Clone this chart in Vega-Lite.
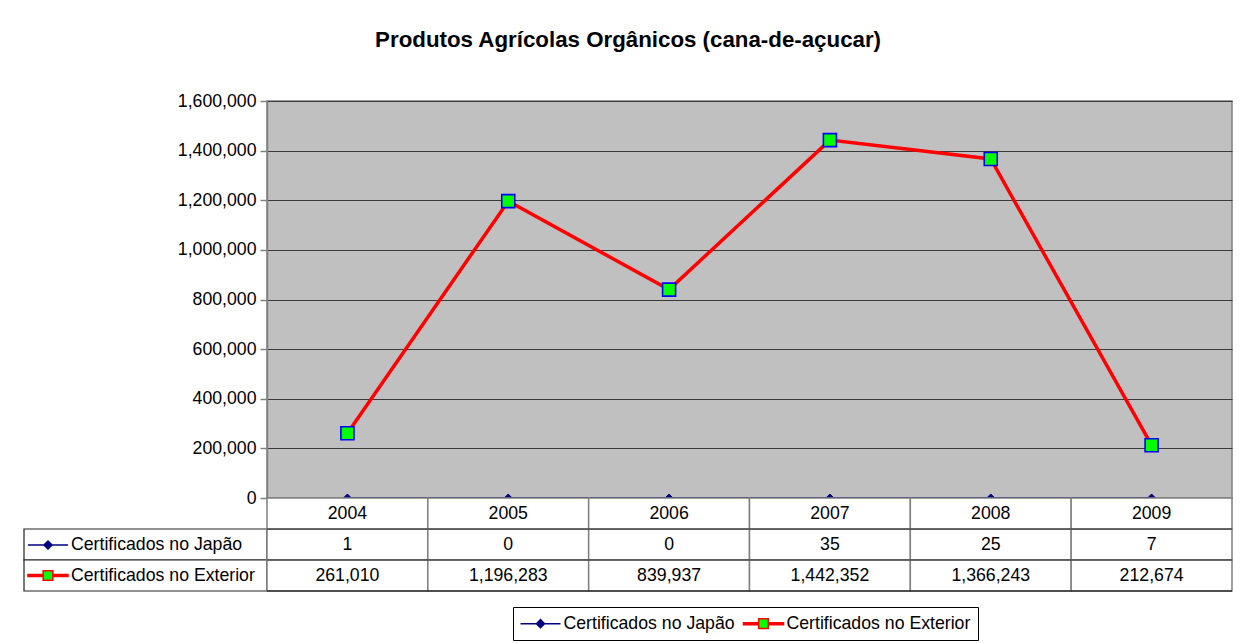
{
  "$schema": "https://vega.github.io/schema/vega-lite/v6.json",
  "background": "white",
  "padding": {"left": 23, "top": 28, "right": 10, "bottom": 4},
  "title": {"text": "Produtos Agrícolas Orgânicos (cana-de-açucar)", "font": "Liberation Sans", "fontSize": 22.3, "fontWeight": "bold", "color": "black", "anchor": "middle", "offset": 40},
  "config": {
    "font": "Liberation Sans",
    "view": {"stroke": null},
    "text": {"font": "Liberation Sans", "fontSize": 17.7, "color": "black"},
    "legend": {"labelFont": "Liberation Sans", "labelFontSize": 17.7, "labelColor": "black", "labelLimit": 0, "title": null}
  },
  "datasets": {
    "rows": [
      {"year": "2004", "series": "Certificados no Japão", "value": 1},
      {"year": "2005", "series": "Certificados no Japão", "value": 0},
      {"year": "2006", "series": "Certificados no Japão", "value": 0},
      {"year": "2007", "series": "Certificados no Japão", "value": 35},
      {"year": "2008", "series": "Certificados no Japão", "value": 25},
      {"year": "2009", "series": "Certificados no Japão", "value": 7},
      {"year": "2004", "series": "Certificados no Exterior", "value": 261010},
      {"year": "2005", "series": "Certificados no Exterior", "value": 1196283},
      {"year": "2006", "series": "Certificados no Exterior", "value": 839937},
      {"year": "2007", "series": "Certificados no Exterior", "value": 1442352},
      {"year": "2008", "series": "Certificados no Exterior", "value": 1366243},
      {"year": "2009", "series": "Certificados no Exterior", "value": 212674}
    ]
  },
  "data": {"name": "rows"},
  "columns": 2,
  "spacing": 0,
  "bounds": "flush",
  "align": "each",
  "resolve": {"scale": {"stroke": "independent"}},
  "concat": [
    {
      "width": 243, "height": 397,
      "mark": {"type": "text", "text": ""},
      "encoding": {}
    },
    {
      "width": 965, "height": 397,
      "view": {"fill": "#c0c0c0", "stroke": "#808080", "strokeWidth": 1.5},
      "encoding": {
        "x": {"field": "year", "type": "ordinal", "scale": {"type": "point", "padding": 0.5}, "axis": null},
        "y": {"field": "value", "type": "quantitative",
          "scale": {"domain": [0, 1600000], "nice": false, "zero": true},
          "axis": {"values": [0, 200000, 400000, 600000, 800000, 1000000, 1200000, 1400000, 1600000], "format": ",d", "title": null,
            "grid": true, "gridColor": "#3a3a3a", "gridWidth": 1, "gridOpacity": 1,
            "domainColor": "#808080", "domainWidth": 1.5, "tickColor": "#808080", "tickSize": 7, "tickWidth": 1.5,
            "labelFont": "Liberation Sans", "labelFontSize": 17.7, "labelColor": "black", "labelPadding": 4}}
      },
      "layer": [
        {
          "transform": [{"filter": "datum.series == 'Certificados no Japão'"}],
          "mark": {"type": "line", "strokeWidth": 2},
          "encoding": {"stroke": {"field": "series", "type": "nominal", "sort": "descending",
            "scale": {"range": ["#000080", "#ff0000"]},
            "legend": {"orient": "none", "legendX": 246, "legendY": 506, "direction": "horizontal",
              "symbolSize": 256, "symbolStrokeWidth": 1.5, "symbolOffset": 11, "labelOffset": 14, "columnPadding": 5, "padding": 7.5,
              "strokeColor": "black", "fillColor": "white",
              "encode": {"symbols": {"update": {
                "shape": {"signal": "datum.value === 'Certificados no Exterior' ? 'M-2.5,-0.125H-0.6V0.125H-2.5Z M0.6,-0.125H2.5V0.125H0.6Z M-0.6,-0.6H0.6V0.6H-0.6Z' : 'M-2.5,0H2.5M0,-0.5L0.5,0L0,0.5L-0.5,0Z'"},
                "fill": {"signal": "datum.value === 'Certificados no Exterior' ? {gradient: 'linear', x1: 0, y1: 0, x2: 1, y2: 0, stops: [{offset: 0, color: '#ff0000'}, {offset: 0.38, color: '#ff0000'}, {offset: 0.38, color: '#00ff00'}, {offset: 0.62, color: '#00ff00'}, {offset: 0.62, color: '#ff0000'}, {offset: 1, color: '#ff0000'}]} : '#000080'"},
                "stroke": {"signal": "datum.value === 'Certificados no Exterior' ? {gradient: 'linear', x1: 0, y1: 0, x2: 1, y2: 0, stops: [{offset: 0, color: '#ff0000'}, {offset: 0.36, color: '#ff0000'}, {offset: 0.36, color: '#0000ff'}, {offset: 0.64, color: '#0000ff'}, {offset: 0.64, color: '#ff0000'}, {offset: 1, color: '#ff0000'}]} : '#000080'"},
                "strokeWidth": {"value": 1.5},
                "opacity": {"value": 1}}}}}}}
        },
        {
          "transform": [{"filter": "datum.series == 'Certificados no Exterior'"}],
          "mark": {"type": "line", "strokeWidth": 3.5},
          "encoding": {"stroke": {"field": "series", "type": "nominal", "sort": "descending", "scale": {"range": ["#000080", "#ff0000"]}}}
        },
        {
          "transform": [{"filter": "datum.series == 'Certificados no Japão'"}],
          "mark": {"type": "point", "shape": "diamond", "filled": true, "fill": "#000080", "stroke": "#000080", "strokeWidth": 1, "size": 64, "opacity": 1},
          "encoding": {}
        },
        {
          "transform": [{"filter": "datum.series == 'Certificados no Exterior'"}],
          "mark": {"type": "point", "shape": "square", "filled": true, "fill": "#00ff00", "stroke": "#0000ff", "strokeWidth": 1.6, "size": 169, "opacity": 1},
          "encoding": {}
        }
      ]
    },
    {
      "width": 243, "height": 93,
      "encoding": {"y": {"field": "series", "type": "nominal",
        "scale": {"domain": ["Ano", "Certificados no Japão", "Certificados no Exterior"], "paddingInner": 0, "paddingOuter": 0}, "axis": null}},
      "layer": [
        {
          "transform": [{"filter": "datum.year == '2004'"}],
          "mark": {"type": "rect", "fill": "white", "stroke": "#222222", "strokeWidth": 1.2},
          "encoding": {}
        },
        {
          "transform": [{"filter": "datum.year == '2004'"}],
          "mark": {"type": "line", "opacity": 0, "strokeWidth": 1.5},
          "encoding": {
            "stroke": {"field": "series", "type": "nominal", "sort": "descending",
              "scale": {"range": ["#000080", "#ff0000"]},
              "legend": {"orient": "none", "legendX": 4, "legendY": 38, "direction": "vertical",
                "symbolSize": 256, "symbolStrokeWidth": 1.5, "symbolOffset": 11, "labelOffset": 14, "rowPadding": 12.5, "padding": 0,
                "encode": {"symbols": {"update": {
                  "shape": {"signal": "datum.value === 'Certificados no Exterior' ? 'M-2.5,-0.125H-0.6V0.125H-2.5Z M0.6,-0.125H2.5V0.125H0.6Z M-0.6,-0.6H0.6V0.6H-0.6Z' : 'M-2.5,0H2.5M0,-0.5L0.5,0L0,0.5L-0.5,0Z'"},
                  "fill": {"signal": "datum.value === 'Certificados no Exterior' ? {gradient: 'linear', x1: 0, y1: 0, x2: 1, y2: 0, stops: [{offset: 0, color: '#ff0000'}, {offset: 0.38, color: '#ff0000'}, {offset: 0.38, color: '#00ff00'}, {offset: 0.62, color: '#00ff00'}, {offset: 0.62, color: '#ff0000'}, {offset: 1, color: '#ff0000'}]} : '#000080'"},
                  "stroke": {"signal": "datum.value === 'Certificados no Exterior' ? {gradient: 'linear', x1: 0, y1: 0, x2: 1, y2: 0, stops: [{offset: 0, color: '#ff0000'}, {offset: 0.36, color: '#ff0000'}, {offset: 0.36, color: '#0000ff'}, {offset: 0.64, color: '#0000ff'}, {offset: 0.64, color: '#ff0000'}, {offset: 1, color: '#ff0000'}]} : '#000080'"},
                  "strokeWidth": {"value": 1.5},
                  "opacity": {"value": 1}}}}}}
          }
        }
      ]
    },
    {
      "width": 965, "height": 93,
      "layer": [
        {
          "mark": {"type": "rect", "fill": "white", "stroke": "#808080", "strokeWidth": 1.5},
          "encoding": {
            "x": {"field": "year", "type": "ordinal", "scale": {"paddingInner": 0, "paddingOuter": 0}, "axis": null},
            "y": {"field": "series", "type": "nominal", "scale": {"domain": ["Ano", "Certificados no Japão", "Certificados no Exterior"], "paddingInner": 0, "paddingOuter": 0}, "axis": null}
          }
        },
        {
          "transform": [{"filter": "datum.series == 'Certificados no Japão'"}],
          "mark": {"type": "rect", "fill": "white", "stroke": "#808080", "strokeWidth": 1.5},
          "encoding": {
            "x": {"field": "year", "type": "ordinal", "axis": null},
            "y": {"datum": "Ano"}
          }
        },
        {
          "transform": [{"filter": "datum.year == '2004'"}],
          "mark": {"type": "rule", "color": "#333333", "strokeWidth": 1.2},
          "encoding": {"y": {"field": "series", "type": "nominal", "bandPosition": 0}}
        },
        {
          "transform": [{"filter": "datum.year == '2004' && datum.series == 'Certificados no Exterior'"}],
          "mark": {"type": "rule", "color": "#000000", "strokeWidth": 1.2},
          "encoding": {"y": {"field": "series", "type": "nominal", "bandPosition": 1}}
        },
        {
          "mark": {"type": "text", "fontSize": 17.7, "color": "black"},
          "encoding": {
            "x": {"field": "year", "type": "ordinal", "axis": null},
            "y": {"field": "series", "type": "nominal"},
            "text": {"field": "value", "type": "quantitative", "format": ",d"}
          }
        },
        {
          "transform": [{"filter": "datum.series == 'Certificados no Japão'"}],
          "mark": {"type": "text", "fontSize": 17.7, "color": "black"},
          "encoding": {
            "x": {"field": "year", "type": "ordinal", "axis": null},
            "y": {"datum": "Ano"},
            "text": {"field": "year", "type": "nominal"}
          }
        }
      ]
    }
  ]
}
